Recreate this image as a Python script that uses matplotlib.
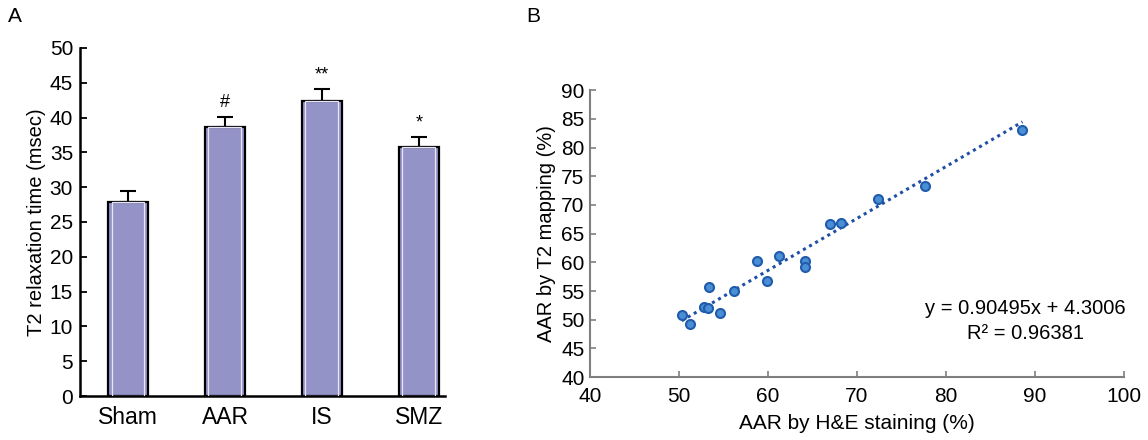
import matplotlib
matplotlib.use('Agg')
import matplotlib.pyplot as plt
import numpy as np

plt.rcParams['font.family'] = ['Liberation Sans', 'DejaVu Sans']

# -- Panel A data ------------------------------------------------------
groups = ['Sham', 'AAR', 'IS', 'SMZ']
t2_mean = [27.9, 38.6, 42.4, 35.8]
t2_err = [1.6, 1.5, 1.7, 1.4]
marks = ['', '#', '**', '*']

# -- Panel B data ------------------------------------------------------
he_pct = [50.3, 51.2, 53.4, 52.8, 53.3, 54.6, 56.2, 58.8, 59.9, 61.2,
          64.2, 64.2, 67.0, 68.2, 72.4, 77.6, 88.6]
t2_pct = [50.9, 49.3, 55.7, 52.2, 52.1, 51.1, 55.0, 60.2, 56.8, 61.1,
          60.3, 59.2, 66.6, 66.8, 71.0, 73.3, 83.1]
slope, intercept = 0.90495, 4.3006
r2 = 0.96381

C_BAR = '#9493C8'
C_PT = '#4A8ED6'
C_PT_EDGE = '#1F5CAB'
C_LINE = '#1F4FA6'
C_GREY = '#7F7F7F'

fig = plt.figure(figsize=(11.48, 4.4), dpi=100, facecolor='white')

# -- Panel A: bars -----------------------------------------------------
ax1 = fig.add_axes([0.0697, 0.100, 0.318, 0.791])
xpos = np.arange(len(groups))
ax1.bar(xpos, t2_mean, width=0.41, color=C_BAR, edgecolor='black',
        linewidth=1.6, zorder=2)
ax1.bar(xpos, t2_mean, width=0.34, color='none', edgecolor='#E6E6F5',
        linewidth=0.9, zorder=3)
ax1.errorbar(xpos, t2_mean, yerr=[np.zeros(len(t2_err)), t2_err], fmt='none',
             ecolor='black', elinewidth=1.5, capsize=6, capthick=1.5, zorder=1)
for x, m, e, s in zip(xpos, t2_mean, t2_err, marks):
    if s:
        ax1.annotate(s, (x, m + e), xytext=(0, 4), textcoords='offset points',
                     ha='center', va='bottom', fontsize=13)
ax1.set_xlim(-0.495, 3.27)
ax1.set_ylim(0, 50)
ax1.set_yticks(range(0, 51, 5))
ax1.set_xticks(xpos)
ax1.set_xticklabels(groups)
ax1.tick_params(axis='y', direction='in', length=5, width=1.3, labelsize=15, pad=5)
ax1.tick_params(axis='x', length=0, labelsize=16.5, pad=7)
ax1.set_ylabel('T2 relaxation time (msec)', fontsize=14.5, labelpad=3)
for sp in ['top', 'right']:
    ax1.spines[sp].set_visible(False)
for sp in ['left', 'bottom']:
    ax1.spines[sp].set_linewidth(1.8)
fig.text(15 / 1148, 1 - 17 / 440, 'A', fontsize=15, ha='center', va='center')

# -- Panel B: scatter + fit --------------------------------------------
ax2 = fig.add_axes([0.514, 0.143, 0.465, 0.652])
xfit = np.array([min(he_pct), max(he_pct)])
ax2.plot(xfit, slope * xfit + intercept, linestyle=(0, (1, 1.3)),
         color=C_LINE, linewidth=2.2, zorder=2)
ax2.scatter(he_pct, t2_pct, s=42, color=C_PT, edgecolor=C_PT_EDGE,
            linewidth=1.5, zorder=3)
ax2.set_xlim(40, 100)
ax2.set_ylim(40, 90)
ax2.set_xticks(range(40, 101, 10))
ax2.set_yticks(range(40, 91, 5))
ax2.tick_params(direction='in', length=4, width=1.2, color=C_GREY,
                labelsize=15)
ax2.tick_params(axis='x', pad=7)
ax2.tick_params(axis='y', pad=4)
ax2.set_xlabel('AAR by H&E staining (%)', fontsize=15, labelpad=6)
ax2.set_ylabel('AAR by T2 mapping (%)', fontsize=14.5, labelpad=4)
for sp in ['top', 'right']:
    ax2.spines[sp].set_visible(False)
for sp in ['left', 'bottom']:
    ax2.spines[sp].set_color(C_GREY)
    ax2.spines[sp].set_linewidth(1.5)
ax2.text(0.815, 0.24, 'y = {0}x + {1}'.format(slope, intercept),
         transform=ax2.transAxes, ha='center', va='center', fontsize=14.5)
ax2.text(0.815, 0.153, 'R² = {0}'.format(r2),
         transform=ax2.transAxes, ha='center', va='center', fontsize=14.5)
fig.text(533 / 1148, 1 - 17 / 440, 'B', fontsize=15, ha='center', va='center')

plt.savefig('out.png', dpi=100, facecolor='white')
plt.close()
